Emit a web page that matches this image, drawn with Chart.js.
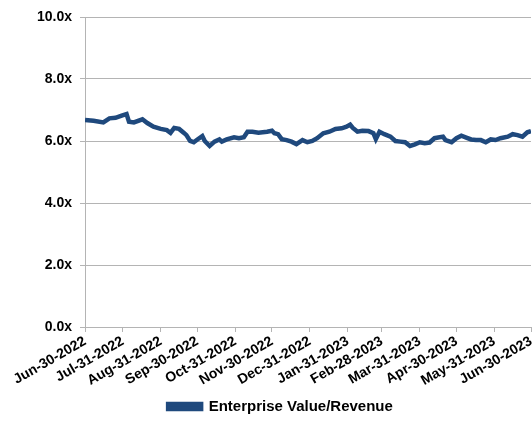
<!DOCTYPE html>
<html>
<head>
<meta charset="utf-8">
<script src="https://cdn.jsdelivr.net/npm/chart.js@4.4.0/dist/chart.umd.min.js"></script>
<style>
    html, body { margin: 0; padding: 0; background: #ffffff; }
    #wrap { width: 532px; height: 430px; }
</style>
</head>
<body>
<div id="wrap"><canvas id="graficoMultiplo"></canvas></div>
<script>
// days since Jun-30-2022 and the EV/Revenue multiple on that day
var dias = [0, 7, 15, 20, 25, 30, 34, 36, 40, 47, 51, 56, 62, 67, 70, 73, 77, 81, 83, 86,
    89, 92, 96, 98, 102, 106, 110, 112, 116, 122, 126, 130, 133, 137, 142, 149, 153, 155, 158, 161,
    165, 169, 173, 178, 182, 186, 190, 195, 200, 205, 210, 214, 217, 219, 223, 227, 232, 236, 238, 241,
    245, 250, 254, 258, 262, 266, 270, 274, 278, 282, 286, 289, 293, 295, 300, 304, 308, 312, 316, 320,
    324, 328, 332, 336, 340, 346, 350, 354, 358, 362, 365];

var multiplos = [6.68, 6.65, 6.60, 6.73, 6.75, 6.82, 6.87, 6.62, 6.60, 6.70, 6.58, 6.46, 6.39, 6.35, 6.26, 6.42, 6.39, 6.26, 6.19, 6.00,
    5.96, 6.05, 6.16, 6.00, 5.84, 5.98, 6.05, 5.98, 6.05, 6.12, 6.09, 6.12, 6.30, 6.30, 6.27, 6.30, 6.33, 6.25, 6.22, 6.06,
    6.03, 5.98, 5.90, 6.03, 5.96, 6.00, 6.09, 6.25, 6.30, 6.39, 6.41, 6.46, 6.53, 6.43, 6.30, 6.33, 6.32, 6.25, 6.06, 6.30,
    6.22, 6.14, 6.00, 5.98, 5.96, 5.84, 5.89, 5.96, 5.93, 5.95, 6.09, 6.11, 6.14, 6.03, 5.96, 6.09, 6.17, 6.11, 6.05, 6.03,
    6.03, 5.96, 6.05, 6.03, 6.09, 6.14, 6.22, 6.19, 6.14, 6.28, 6.32];

// month-end tick positions and their labels
var diasMes = [0, 31, 62, 92, 123, 153, 184, 215, 243, 274, 304, 335, 365];
var etiquetasMes = ['Jun-30-2022', 'Jul-31-2022', 'Aug-31-2022', 'Sep-30-2022', 'Oct-31-2022', 'Nov-30-2022',
    'Dec-31-2022', 'Jan-31-2023', 'Feb-28-2023', 'Mar-31-2023', 'Apr-30-2023', 'May-31-2023', 'Jun-30-2023'];

var valoresEjeY = [0, 2, 4, 6, 8, 10];

var puntos = dias.map(function (d, i) {
    return { x: d, y: multiplos[i] };
});

var gris = '#b4b4b4';
var azul = '#1f497d';
var fuente = { family: '"Liberation Sans", Arial, sans-serif', size: 14, weight: 'bold' };

// nudges the legend a bit to the right of centre
var moverLeyenda = {
    id: 'moverLeyenda',
    afterLayout: function (chart) {
        chart.legend.left += 15;
        chart.legend.right += 15;
    }
};

var ctx = document.getElementById('graficoMultiplo').getContext('2d');
var grafico = new Chart(ctx, {
    type: 'line',
    data: {
        datasets: [{
            label: 'Enterprise Value/Revenue',
            data: puntos,
            borderColor: azul,
            backgroundColor: azul,
            borderWidth: 4.5,
            pointRadius: 0,
            tension: 0
        }]
    },
    plugins: [moverLeyenda],
    options: {
        responsive: true,
        maintainAspectRatio: false,
        animation: false,
        layout: { padding: { top: 17, right: 1, left: 0, bottom: 6 } },
        plugins: {
            tooltip: { enabled: false },
            legend: {
                position: 'bottom',
                labels: {
                    color: '#000000',
                    font: { family: fuente.family, size: 15, weight: 'bold' },
                    boxWidth: 33,
                    boxHeight: 5,
                    padding: 10
                }
            }
        },
        scales: {
            x: {
                type: 'linear',
                min: 0,
                max: 365,
                afterBuildTicks: function (scale) {
                    scale.ticks = diasMes.map(function (d) { return { value: d }; });
                },
                afterFit: function (scale) {
                    scale.height = 62;
                    scale.paddingLeft = 0;
                    scale.paddingRight = 0;
                },
                ticks: {
                    autoSkip: false,
                    maxRotation: 30,
                    minRotation: 30,
                    padding: 1,
                    color: '#000000',
                    font: fuente,
                    callback: function (value) {
                        var i = diasMes.indexOf(value);
                        return i >= 0 ? etiquetasMes[i] : '';
                    }
                },
                grid: {
                    drawOnChartArea: false,
                    drawTicks: true,
                    tickLength: 5,
                    color: gris
                },
                border: { color: gris, width: 1 }
            },
            y: {
                min: 0,
                max: 10,
                afterBuildTicks: function (scale) {
                    scale.ticks = valoresEjeY.map(function (v) { return { value: v }; });
                },
                afterFit: function (scale) {
                    scale.width = 85;
                    scale.paddingTop = 0;
                    scale.paddingBottom = 0;
                },
                ticks: {
                    padding: 8,
                    color: '#000000',
                    font: fuente,
                    callback: function (value) {
                        return value.toFixed(1) + 'x';
                    }
                },
                grid: {
                    color: gris,
                    tickLength: 5,
                    lineWidth: 1
                },
                border: { color: gris, width: 1 }
            }
        }
    }
});
</script>
</body>
</html>
